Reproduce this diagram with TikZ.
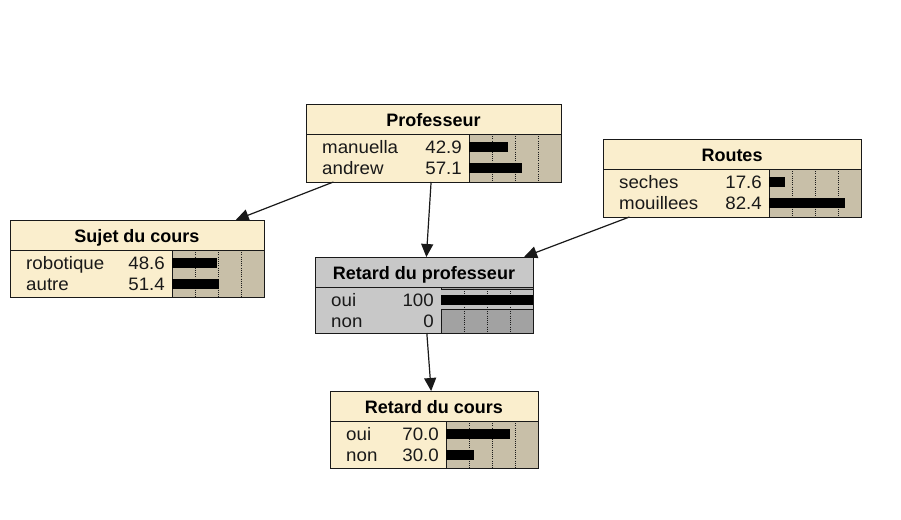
\documentclass[tikz,border=0pt]{standalone}
\usepackage{fontspec}
\setmainfont{Liberation Sans}
\newfontfamily\rowfont{Liberation Sans}[FakeStretch=1.04]
\usetikzlibrary{arrows.meta}
\definecolor{cream}{RGB}{250,238,205}
\definecolor{tanbar}{RGB}{200,191,168}
\definecolor{lgrey}{RGB}{200,200,200}
\definecolor{dgrey}{RGB}{162,162,162}
\definecolor{edgec}{RGB}{25,25,25}
\tikzset{
 nodebox/.style={draw=edgec, line width=1pt, rectangle, inner sep=0pt, outer sep=0pt},
 sep/.style={draw=edgec, line width=1pt},
 gridline/.style={draw=edgec, line width=1pt, dash pattern=on 1pt off 1.2pt},
 titletext/.style={inner sep=0pt, anchor=base, font=\fontsize{18}{20}\selectfont\bfseries, text=black},
 rowtext/.style={inner sep=0pt, font=\fontsize{18}{20}\selectfont\rowfont, text=black!90},
 conn/.style={draw=edgec, line width=1.2pt, -{Triangle[length=13pt,width=12pt]}}
}
\newcommand\nbox[8]{%
 \def\bx{#2}\def\by{#3}\def\bw{#4}\def\bh{#5}%
 \node[nodebox, fill=#7, minimum width=#4pt, minimum height=#5pt, anchor=north west] (#1) at (#2,#3) {};
 \fill[#8] (#2+#4-92,#3+30) rectangle (#2+#4,#3+#5);
 \foreach \g in {23,46,69} {\draw[gridline] (#2+#4-92+\g,#3+30) -- (#2+#4-92+\g,#3+#5);}
 \draw[sep] (#2,#3+30) -- (#2+#4,#3+30);
 \draw[sep] (#2+#4-92,#3+30) -- (#2+#4-92,#3+#5);
 \draw[sep] (#1.north west) rectangle (#1.south east);
 \node[titletext] at (#2+#4/2,#3+22) {#6};
}
\newcommand\nrow[4]{%
 \pgfmathsetmacro\ry{\by+30+19+(#1-1)*21}%
 \pgfmathsetmacro\rb{\by+30+8+(#1-1)*21}%
 \node[rowtext, anchor=base west] at (\bx+16,\ry) {#2};
 \node[rowtext, anchor=base east] at (\bx+\bw-99,\ry) {#3};
 \fill[black] (\bx+\bw-92,\rb) rectangle ++(0.92*#4,10);
}
\begin{document}
\begin{tikzpicture}[x=1pt,y=-1pt]
\fill[white] (0,0) rectangle (901,519);
\path[use as bounding box] (0,0) rectangle (901,519);

\nbox{prof}{306}{104}{255}{78}{Professeur}{cream}{tanbar}
\nrow{1}{manuella}{42.9}{42.9}
\nrow{2}{andrew}{57.1}{57.1}

\nbox{routes}{603}{139}{258}{78}{Routes}{cream}{tanbar}
\nrow{1}{seches}{17.6}{17.6}
\nrow{2}{mouillees}{82.4}{82.4}

\nbox{sujet}{10}{220}{254}{77}{Sujet du cours}{cream}{tanbar}
\nrow{1}{robotique}{48.6}{48.6}
\nrow{2}{autre}{51.4}{51.4}

\nbox{rp}{315}{257}{218}{76}{Retard du professeur}{lgrey}{dgrey}
\fill[lgrey!85!dgrey] (441,289) rectangle (533,309);
\foreach \g in {23,46,69} {\draw[gridline] (441+\g,289) -- (441+\g,309);}
\draw[sep] (441,289) -- (533,289);
\draw[sep] (441,309) -- (533,309);
\nrow{1}{oui}{100}{100}
\nrow{2}{non}{0}{0}
\draw[sep] (rp.north west) rectangle (rp.south east);

\nbox{rc}{330}{391}{208}{77}{Retard du cours}{cream}{tanbar}
\nrow{1}{oui}{70.0}{70.0}
\nrow{2}{non}{30.0}{30.0}

\draw[conn] (prof) -- (sujet);
\draw[conn] (prof) -- (rp);
\draw[conn] (routes) -- (rp);
\draw[conn] (rp) -- (rc);
\end{tikzpicture}
\end{document}
